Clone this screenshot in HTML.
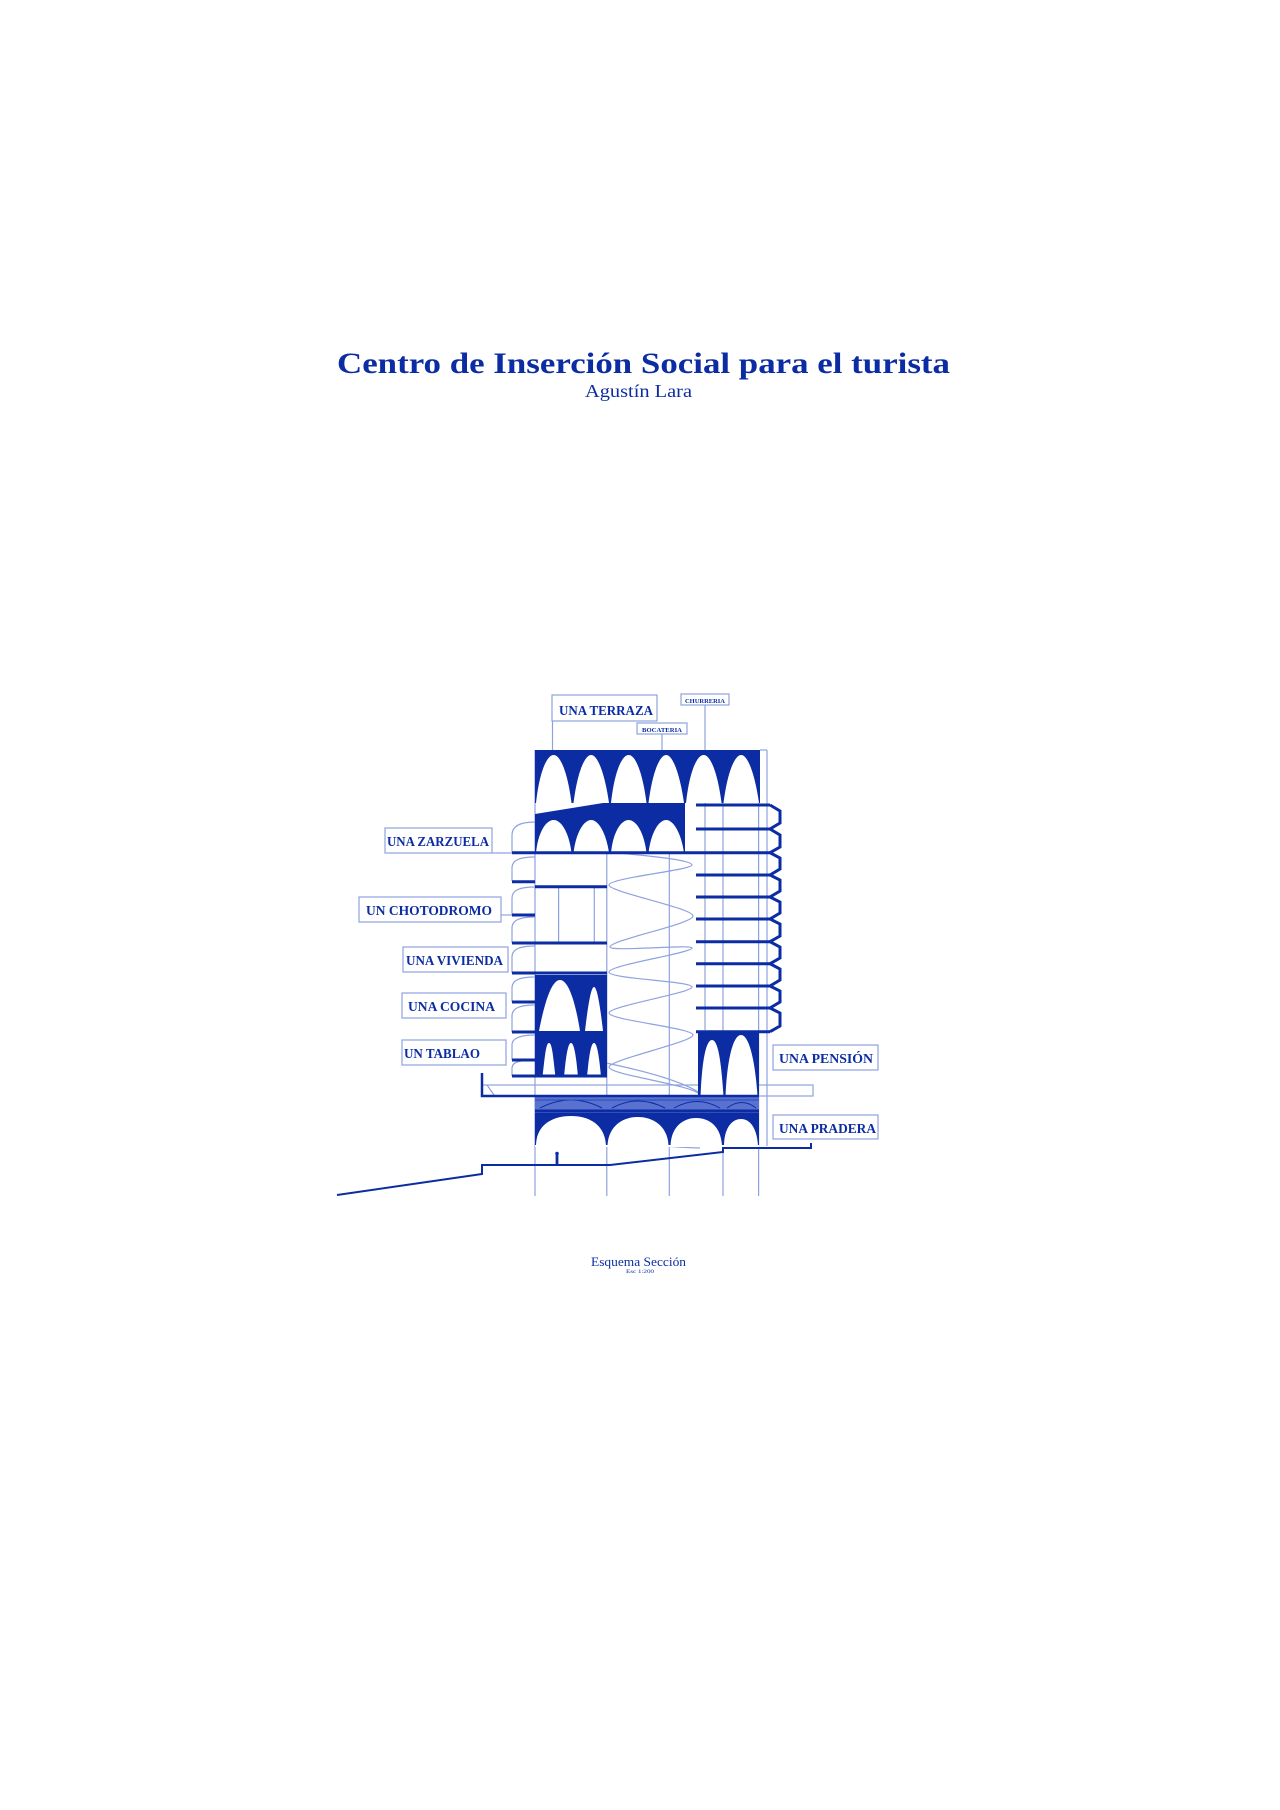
<!DOCTYPE html>
<html><head><meta charset="utf-8"><style>
html,body{margin:0;padding:0;background:#fff;}
svg{display:block;}
</style></head><body>
<svg width="1280" height="1810" viewBox="0 0 1280 1810" xmlns="http://www.w3.org/2000/svg" font-family="'Liberation Serif', serif">
<rect width="1280" height="1810" fill="#fff"/>
<text x="337" y="373" font-size="30" font-weight="bold" fill="#0b2ca3" textLength="613" lengthAdjust="spacingAndGlyphs">Centro de Inserción Social para el turista</text>
<text x="585" y="397" font-size="18" fill="#0b2ca3" textLength="107" lengthAdjust="spacingAndGlyphs">Agustín Lara</text>

<g stroke="#8fa2e0" stroke-width="1.2" fill="none">
<line x1="535" y1="750" x2="535" y2="1196"/>
<line x1="606.8" y1="803" x2="606.8" y2="1196"/>
<line x1="669.3" y1="750" x2="669.3" y2="1196"/>
<line x1="705" y1="705" x2="705" y2="1030"/>
<line x1="723" y1="750" x2="723" y2="1196"/>
<line x1="758.6" y1="750" x2="758.6" y2="1196"/>
<line x1="767" y1="750" x2="767" y2="1146"/>
<line x1="760" y1="750" x2="767" y2="750"/>
<line x1="552.5" y1="721" x2="552.5" y2="750"/>
<line x1="662" y1="734" x2="662" y2="750"/>
<line x1="558.6" y1="887" x2="558.6" y2="943"/>
<line x1="594.3" y1="887" x2="594.3" y2="943"/>
<line x1="535" y1="1065" x2="607" y2="1065"/>
<line x1="698" y1="1075" x2="759" y2="1075"/>
<rect x="552" y="695" width="105" height="26"/>
<rect x="681" y="694" width="48" height="11"/>
<rect x="637" y="723" width="50" height="11"/>
<rect x="385" y="828" width="107" height="25"/>
<rect x="359" y="897" width="142" height="25"/>
<rect x="403" y="947" width="105" height="25"/>
<rect x="402" y="993" width="104" height="25"/>
<rect x="402" y="1040" width="104" height="25"/>
<rect x="773" y="1045" width="105" height="25"/>
<rect x="773" y="1115" width="105" height="24"/>
<line x1="492" y1="853" x2="512" y2="853"/>
<line x1="501" y1="915" x2="512" y2="915"/>
<rect x="482" y="1085" width="331" height="11"/>
<line x1="487" y1="1085" x2="494" y2="1095"/>
<path d="M512,852 V835 C512,826 520,822 535,822 M512,881 V868 C512,860 520,857 535,857 M512,915 V898 C512,890 520,887 535,887 M512,943 V928 C512,920 520,917 535,917 M512,973 V957 C512,949 520,946 535,946 M512,1002 V988 C512,980 520,977 535,977 M512,1032 V1016 C512,1008 520,1005 535,1005 M512,1060 V1045 C512,1038 520,1035 535,1035 M512,1076 V1068 C512,1062 520,1060 535,1060"/>
<path d="M608,847 C612,835 625,826 640,822 M618,853 C650,856 692,860 692,865 C692,870 609,878 609,885 C609,892 693,908 693,916 C693,924 610,940 610,947 C610,952 692,944 692,948 C692,953 609,965 609,972 C609,979 692,981 692,987 C692,993 609,1006 609,1013 C609,1020 693,1028 693,1035 C693,1042 609,1060 609,1067 C609,1075 695,1085 700,1095 M606,1063 C640,1070 680,1080 700,1093 M606,1125 C606,1140 640,1146 700,1148"/>
</g>

<g fill="#0b2ca3">
<rect x="535" y="750" width="225" height="53"/>
<polygon points="535,814 603,803 685,803 685,853 535,853"/>
<rect x="535" y="975" width="72" height="57"/>
<rect x="535" y="1032" width="72" height="44"/>
<rect x="698" y="1032" width="61" height="63"/>
<rect x="535" y="1112" width="224" height="33"/>
<rect x="535" y="1096" width="224" height="17" fill="#5a72cf"/>
</g>
<g stroke="#0b2ca3" fill="none" stroke-width="1">
<path d="M540,1108 Q571,1092 602,1108 M612,1108 Q638,1094 665,1108 M674,1108 Q697,1095 720,1108 M727,1108 Q742,1097 756,1108"/>
<line x1="535" y1="1111" x2="759" y2="1111" stroke-width="3"/>
<line x1="535" y1="1100" x2="759" y2="1100" stroke="#2a48bd"/>
</g>
<g fill="#fff">
<path d="M536,803 C539,775 546,755 553.7,755 C561,755 568,775 571.5,803Z"/>
<path d="M573.5,803 C577,775 584,755 591.2,755 C598,755 605,775 609,803Z"/>
<path d="M611,803 C614,775 621,755 628.7,755 C636,755 643,775 646.5,803Z"/>
<path d="M648.5,803 C652,775 659,755 666.2,755 C673,755 680,775 684,803Z"/>
<path d="M686,803 C689,775 696,755 703.7,755 C711,755 718,775 721.5,803Z"/>
<path d="M723.5,803 C727,775 734,755 741.2,755 C748,755 755,775 759,803Z"/>
<path d="M536,853 C538,832 546,820 553.7,820 C561,820 569,832 571.5,853Z"/>
<path d="M573.5,853 C576,832 584,820 591.2,820 C598,820 606,832 609,853Z"/>
<path d="M611,853 C613,832 621,820 628.7,820 C636,820 644,832 646.5,853Z"/>
<path d="M648.5,853 C651,832 659,820 666.2,820 C673,820 681,832 684,853Z"/>
<path d="M539,1031 C545,1000 552,980 560,980 C568,980 575,1000 580,1031Z"/>
<path d="M585,1031 C588,1005 591,987 594,987 C597,987 600,1005 603,1031Z"/>
<path d="M542.5,1077 C545,1055 546,1043 549,1043 C552,1043 553,1055 555.5,1077Z"/>
<path d="M564,1077 C566,1055 568,1043 571,1043 C574,1043 576,1055 578,1077Z"/>
<path d="M587,1077 C589,1055 591,1043 594,1043 C597,1043 599,1055 601,1077Z"/>
<path d="M700.5,1096 C702,1060 706,1040 712,1040 C718,1040 721,1060 723.5,1096Z"/>
<path d="M725.5,1096 C727,1060 733,1035 741,1035 C749,1035 755,1060 757.5,1096Z"/>
<path d="M536,1146 C536,1125 552,1116 571,1116 C590,1116 605,1125 606,1146Z"/>
<path d="M607.5,1146 C608,1127 622,1117 638,1117 C654,1117 668,1127 668.5,1146Z"/>
<path d="M670.5,1146 C671,1127 683,1118 696,1118 C710,1118 721,1127 722,1146Z"/>
<path d="M724,1146 C724,1128 732,1119 741,1119 C750,1119 757,1128 758,1146Z"/>
</g>
<rect x="535" y="1145" width="224" height="2" fill="#fff"/>

<g stroke="#0b2ca3" stroke-width="3" fill="none">
<line x1="512" y1="852.7" x2="770" y2="852.7"/>
<line x1="512" y1="881.7" x2="535" y2="881.7"/>
<line x1="512" y1="915" x2="535" y2="915"/>
<line x1="512" y1="943" x2="607" y2="943"/>
<line x1="512" y1="973" x2="607" y2="973"/>
<line x1="512" y1="1002" x2="535" y2="1002"/>
<line x1="512" y1="1032" x2="535" y2="1032"/>
<line x1="512" y1="1060" x2="535" y2="1060"/>
<line x1="512" y1="1076" x2="607" y2="1076"/>
<line x1="535" y1="886.7" x2="607" y2="886.7"/>
<line x1="696" y1="805" x2="770" y2="805"/>
<line x1="696" y1="829" x2="770" y2="829"/>
<line x1="696" y1="875" x2="770" y2="875"/>
<line x1="696" y1="897" x2="770" y2="897"/>
<line x1="696" y1="919" x2="770" y2="919"/>
<line x1="696" y1="941.7" x2="770" y2="941.7"/>
<line x1="696" y1="963.7" x2="770" y2="963.7"/>
<line x1="696" y1="986" x2="770" y2="986"/>
<line x1="696" y1="1008" x2="770" y2="1008"/>
<line x1="696" y1="1031.7" x2="770" y2="1031.7"/>
<path d="M770,805 L780,811 V823 L770,829 L780,835 V847 L770,852.7 L780,858 V869 L770,875 L780,880 V891 L770,897 L780,902 V913 L770,919 L780,924 V936 L770,941.7 L780,947 V958 L770,963.7 L780,969 V980 L770,986 L780,991 V1002 L770,1008 L780,1013 V1026 L770,1031.7"/>
<path d="M482,1073 V1096 H759" stroke-width="2.5"/>
<path d="M337,1195 L482,1174 V1165 H610 L723,1152 V1148 H811 V1143" stroke-width="2"/>
</g>
<g fill="#0b2ca3"><circle cx="557" cy="1153.5" r="1.8"/><rect x="555.6" y="1155" width="2.8" height="10"/></g>

<g font-weight="bold" fill="#0b2ca3" font-size="14">
<text x="559" y="715" textLength="94" lengthAdjust="spacingAndGlyphs">UNA TERRAZA</text>
<text x="387" y="846" textLength="102" lengthAdjust="spacingAndGlyphs">UNA ZARZUELA</text>
<text x="366" y="915" textLength="126" lengthAdjust="spacingAndGlyphs">UN CHOTODROMO</text>
<text x="406" y="965" textLength="97" lengthAdjust="spacingAndGlyphs">UNA VIVIENDA</text>
<text x="408" y="1011" textLength="87" lengthAdjust="spacingAndGlyphs">UNA COCINA</text>
<text x="404" y="1058" textLength="76" lengthAdjust="spacingAndGlyphs">UN TABLAO</text>
<text x="779" y="1063" textLength="94" lengthAdjust="spacingAndGlyphs">UNA PENSIÓN</text>
<text x="779" y="1133" textLength="97" lengthAdjust="spacingAndGlyphs">UNA PRADERA</text>
<text x="685" y="703" font-size="6.5" textLength="40" lengthAdjust="spacingAndGlyphs">CHURRERIA</text>
<text x="642" y="732" font-size="6.5" textLength="40" lengthAdjust="spacingAndGlyphs">BOCATERIA</text>
</g>
<text x="591" y="1266" font-size="12.5" fill="#0b2ca3" textLength="95" lengthAdjust="spacingAndGlyphs">Esquema Sección</text>
<text x="626" y="1273" font-size="5" fill="#0b2ca3" textLength="28" lengthAdjust="spacingAndGlyphs">Esc 1:200</text>
</svg>
</body></html>
